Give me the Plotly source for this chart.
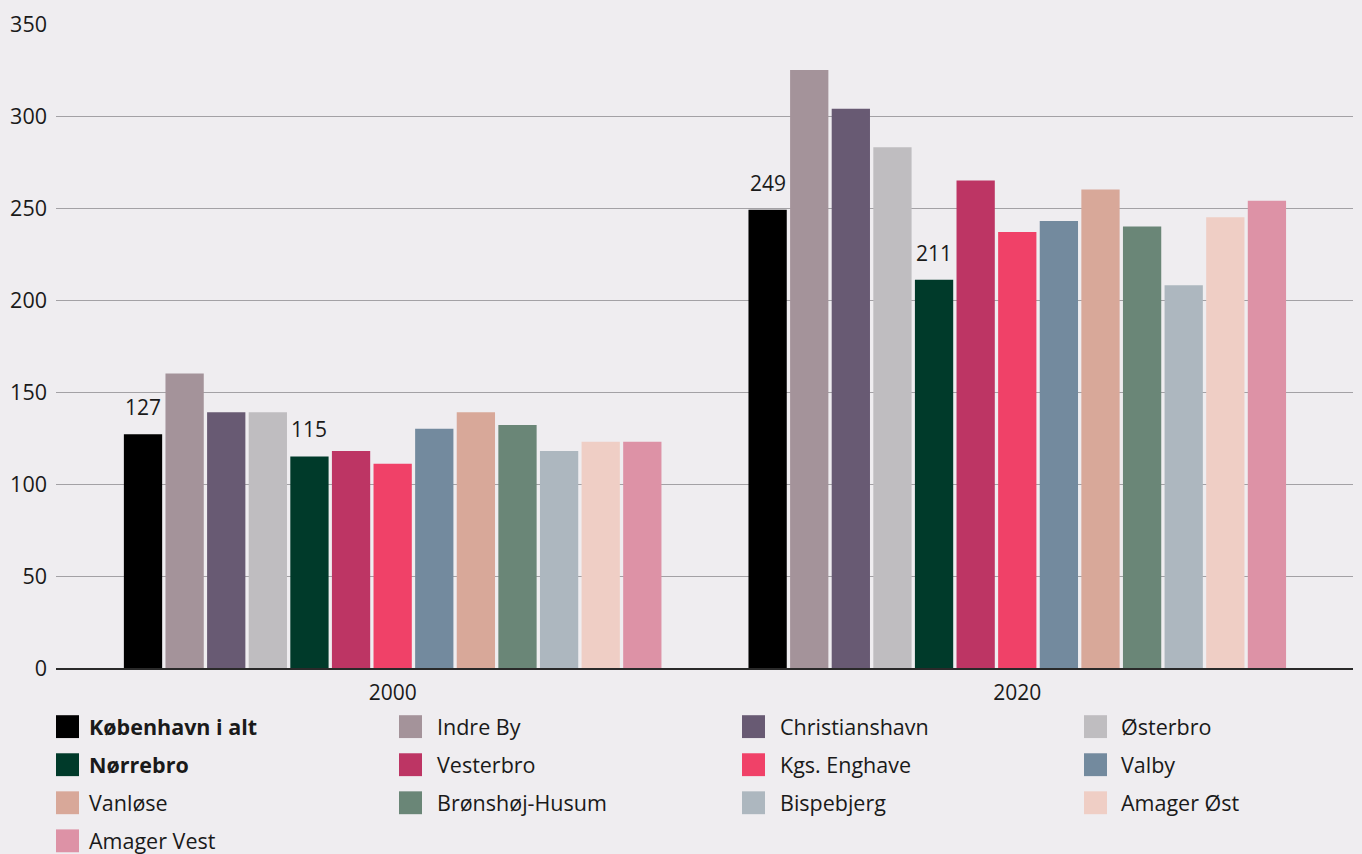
import plotly.graph_objects as go

# data
years = ["2000", "2020"]
districts = [
    "København i alt", "Indre By", "Christianshavn", "Østerbro",
    "Nørrebro", "Vesterbro", "Kgs. Enghave", "Valby",
    "Vanløse", "Brønshøj-Husum", "Bispebjerg", "Amager Øst",
    "Amager Vest",
]
values_2000 = [127, 160, 139, 139, 115, 118, 111, 130, 139, 132, 118, 123, 123]
values_2020 = [249, 325, 304, 283, 211, 265, 237, 243, 260, 240, 208, 245, 254]
colors = [
    "#000000", "#a4939a", "#685a73", "#bfbdc0",
    "#003a2a", "#bd3564", "#f04168", "#738a9e",
    "#d8a899", "#6a8677", "#adb7bf", "#efcec5",
    "#dd92a6",
]
highlighted = ["København i alt", "Nørrebro"]

FONT = "'Open Sans', Lato, sans-serif"
BG = "#efedf0"
BARGAP = 0.134

fig = go.Figure()
for name, v0, v1, col in zip(districts, values_2000, values_2020, colors):
    fig.add_trace(go.Bar(
        x=years, y=[v0, v1], name=name,
        marker=dict(color=col, line=dict(width=0)),
        showlegend=False,
        hovertemplate=name + ": %{y}<extra></extra>",
    ))

# value labels above the highlighted bars
n = len(districts)
slot = (1 - BARGAP) / n
annotations = []
for i, name in enumerate(districts):
    if name not in highlighted:
        continue
    offset = -(1 - BARGAP) / 2 + (i + 0.5) * slot
    for j, vals in enumerate([values_2000, values_2020]):
        annotations.append(dict(
            x=j + offset, y=vals[i], xref="x", yref="y",
            text=str(vals[i]), showarrow=False,
            yanchor="bottom", yshift=11,
            font=dict(family=FONT, size=21, color="#1a1a1a"),
        ))

# legend, four columns filled row by row
W, H = 1362, 854
L, R, T, B = 56, 9, 20.5, 185.5
pw, ph = W - L - R, H - T - B
swatch_x = [56, 399, 742, 1084]
text_x = [88, 436, 779, 1120]
SW = 23
shapes = []
for i, (name, col) in enumerate(zip(districts, colors)):
    c = i % 4
    cy = 727.5 + 38.3 * (i // 4)
    shapes.append(dict(
        type="rect", xref="paper", yref="paper", layer="above",
        x0=(swatch_x[c] - L) / pw, x1=(swatch_x[c] + SW - L) / pw,
        y0=(H - B - (cy + SW / 2)) / ph,
        y1=(H - B - (cy - SW / 2)) / ph,
        fillcolor=col, line=dict(width=0),
    ))
    label = f"<b>{name}</b>" if name in highlighted else name
    annotations.append(dict(
        x=(text_x[c] - L) / pw, y=(H - B - cy) / ph,
        xref="paper", yref="paper", xanchor="left", yanchor="middle",
        xshift=-1, text=label, showarrow=False,
        font=dict(family=FONT, size=21.5, color="#1a1a1a"),
    ))

fig.update_layout(
    width=W, height=H,
    margin=dict(l=L, r=R, t=T, b=B),
    paper_bgcolor=BG, plot_bgcolor=BG,
    barmode="group", bargap=BARGAP, bargroupgap=0.08,
    font=dict(family=FONT, size=21, color="#1a1a1a"),
    showlegend=False,
    xaxis=dict(
        type="category", range=[-0.539, 1.5375],
        showgrid=False, showline=True, linecolor="#2a2a2a", linewidth=1.5,
        ticks="", ticklabelstandoff=5,
        tickfont=dict(size=21),
    ),
    yaxis=dict(
        range=[0, 350], tickvals=[0, 50, 100, 150, 200, 250, 300, 350],
        showgrid=True, gridcolor="#a3a1a5", gridwidth=1.3,
        zeroline=False, ticks="", ticklabelstandoff=8,
        tickfont=dict(size=21.5),
    ),
    shapes=shapes,
    annotations=annotations,
)

# drop the default body margin so the figure sits at the window corner
fig.write_html(
    "out.html",
    config={"displayModeBar": False},
    post_script="document.body.style.margin='0';",
)
